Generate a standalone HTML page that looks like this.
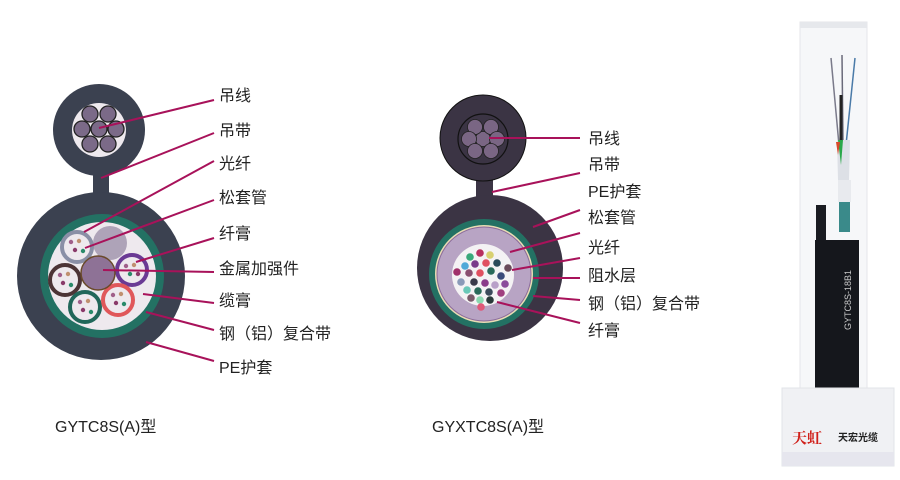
<!DOCTYPE html>
<html><head><meta charset="utf-8"><style>
body{margin:0;background:#fff;width:900px;height:475px;overflow:hidden}
svg text{font-family:"Liberation Sans","Noto Sans CJK SC",sans-serif;fill:#222}
</style></head><body>
<svg width="900" height="475" viewBox="0 0 900 475" xmlns="http://www.w3.org/2000/svg">
<!-- LEFT DIAGRAM -->
<rect x="93" y="160" width="16" height="34" fill="#3b4150"/>
<circle cx="99" cy="130" r="46" fill="#3b4150"/>
<circle cx="99" cy="130" r="27" fill="#eee9ee"/>
<g fill="#7b6a88" stroke="#222" stroke-width="1.3">
<circle cx="99" cy="129" r="8"/><circle cx="90" cy="114" r="8"/><circle cx="108" cy="114" r="8"/>
<circle cx="82" cy="129" r="8"/><circle cx="116" cy="129" r="8"/><circle cx="90" cy="144" r="8"/><circle cx="108" cy="144" r="8"/>
</g>
<circle cx="101" cy="276" r="84" fill="#3b4150"/>
<circle cx="102" cy="276" r="62" fill="#237163"/>
<circle cx="102" cy="276" r="54" fill="#eee9ee"/>
<circle cx="110" cy="243" r="17" fill="#aea3b8"/>
<circle cx="77" cy="247" r="15" fill="#eee9ee" stroke="#8a8fa6" stroke-width="4"/>
<circle cx="132" cy="270" r="15" fill="#eee9ee" stroke="#6a3a94" stroke-width="4"/>
<circle cx="65" cy="280" r="15" fill="#eee9ee" stroke="#4c3436" stroke-width="4"/>
<circle cx="85" cy="307" r="15" fill="#eee9ee" stroke="#21675a" stroke-width="4"/>
<circle cx="118" cy="300" r="15" fill="#eee9ee" stroke="#e0575a" stroke-width="4"/>
<circle cx="98" cy="273" r="17" fill="#8e7296" stroke="#6a4a2a" stroke-width="1.5"/>
<g fill="#a0608a">
<circle cx="71" cy="242" r="2.2"/><circle cx="79" cy="241" r="2.2" fill="#c09070"/><circle cx="75" cy="250" r="2.2" fill="#8a3a6a"/><circle cx="83" cy="251" r="2.2" fill="#2a8a6a"/>
<circle cx="126" cy="266" r="2.2"/><circle cx="134" cy="265" r="2.2" fill="#c09070"/><circle cx="130" cy="274" r="2.2" fill="#2a8a6a"/><circle cx="138" cy="274" r="2.2" fill="#8a3a6a"/>
<circle cx="60" cy="275" r="2.2"/><circle cx="68" cy="274" r="2.2" fill="#c09070"/><circle cx="63" cy="283" r="2.2" fill="#8a3a6a"/><circle cx="71" cy="285" r="2.2" fill="#2a8a6a"/>
<circle cx="80" cy="302" r="2.2"/><circle cx="88" cy="301" r="2.2" fill="#c09070"/><circle cx="83" cy="310" r="2.2" fill="#8a3a6a"/><circle cx="91" cy="312" r="2.2" fill="#2a8a6a"/>
<circle cx="113" cy="295" r="2.2"/><circle cx="121" cy="294" r="2.2" fill="#c09070"/><circle cx="116" cy="303" r="2.2" fill="#8a3a6a"/><circle cx="124" cy="304" r="2.2" fill="#2a8a6a"/>
</g>
<g stroke="#a8125a" stroke-width="2">
<line x1="99" y1="128" x2="214" y2="100"/>
<line x1="101" y1="178" x2="214" y2="133"/>
<line x1="84" y1="232" x2="214" y2="161"/>
<line x1="85" y1="248" x2="214" y2="200"/>
<line x1="136" y1="262" x2="214" y2="238"/>
<line x1="103" y1="270" x2="214" y2="272"/>
<line x1="143" y1="294" x2="214" y2="303"/>
<line x1="146" y1="312" x2="214" y2="330"/>
<line x1="146" y1="342" x2="214" y2="361"/>
</g>
<g font-size="16">
<text x="219" y="101">吊线</text><text x="219" y="136">吊带</text><text x="219" y="169">光纤</text>
<text x="219" y="203">松套管</text><text x="219" y="239">纤膏</text><text x="219" y="274">金属加强件</text>
<text x="219" y="306">缆膏</text><text x="219" y="339">钢（铝）复合带</text><text x="219" y="373">PE护套</text>
<text x="55" y="432">GYTC8S(A)型</text><text x="432" y="432">GYXTC8S(A)型</text>
</g>
<!-- MIDDLE DIAGRAM -->
<rect x="476" y="170" width="17" height="32" fill="#3b3444"/>
<circle cx="483" cy="138" r="43" fill="#3b3444" stroke="#111" stroke-width="1"/>
<circle cx="483" cy="139" r="25" fill="#3b3444" stroke="#111" stroke-width="1.2"/>
<g fill="#7a6684" stroke="#222" stroke-width="0.8">
<circle cx="483" cy="139" r="7.5"/><circle cx="475" cy="127" r="7.5"/><circle cx="491" cy="127" r="7.5"/>
<circle cx="469" cy="139" r="7.5"/><circle cx="497" cy="139" r="7.5"/><circle cx="475" cy="151" r="7.5"/><circle cx="491" cy="151" r="7.5"/>
</g>
<circle cx="490" cy="268" r="73" fill="#3b3444"/>
<circle cx="484" cy="274" r="55" fill="#237163"/>
<circle cx="484" cy="274" r="49" fill="#e8dcb4"/>
<circle cx="484" cy="274" r="47" fill="#b8a4c4" stroke="#8a6a9a" stroke-width="1"/>
<circle cx="483" cy="275" r="31" fill="#f4f2f4"/>
<g>
<circle cx="470" cy="257" r="3.8" fill="#3aa87a"/><circle cx="480" cy="253" r="3.8" fill="#b83060"/><circle cx="490" cy="255" r="3.8" fill="#d8d070"/>
<circle cx="465" cy="266" r="3.8" fill="#50a8d8"/><circle cx="475" cy="264" r="3.8" fill="#7a3a8a"/><circle cx="486" cy="263" r="3.8" fill="#e05060"/><circle cx="497" cy="263" r="3.8" fill="#2a4a5a"/><circle cx="508" cy="268" r="3.8" fill="#6a4a5a"/>
<circle cx="457" cy="272" r="3.8" fill="#a0306a"/><circle cx="469" cy="273" r="3.8" fill="#8a5070"/><circle cx="480" cy="273" r="3.8" fill="#e05060"/><circle cx="491" cy="271" r="3.8" fill="#2a6a5a"/><circle cx="501" cy="276" r="3.8" fill="#3a4a7a"/>
<circle cx="461" cy="282" r="3.8" fill="#8a9ab8"/><circle cx="474" cy="282" r="3.8" fill="#3a3a4a"/><circle cx="485" cy="283" r="3.8" fill="#8a3a8a"/><circle cx="495" cy="285" r="3.8" fill="#b8a0c8"/><circle cx="505" cy="284" r="3.8" fill="#8a4a9a"/>
<circle cx="467" cy="290" r="3.8" fill="#6ac8b8"/><circle cx="478" cy="291" r="3.8" fill="#2a6a5a"/><circle cx="489" cy="292" r="3.8" fill="#3a4a5a"/><circle cx="501" cy="293" r="3.8" fill="#a04080"/>
<circle cx="471" cy="298" r="3.8" fill="#7a5a6a"/><circle cx="480" cy="300" r="3.8" fill="#8ad8b0"/><circle cx="490" cy="300" r="3.8" fill="#2a3a3a"/><circle cx="481" cy="307" r="3.8" fill="#e05878"/>
</g>
<g stroke="#a8125a" stroke-width="2">
<line x1="489" y1="138" x2="580" y2="138"/>
<line x1="492" y1="192" x2="580" y2="173"/>
<line x1="533" y1="227" x2="580" y2="210"/>
<line x1="510" y1="252" x2="580" y2="233"/>
<line x1="512" y1="270" x2="580" y2="258"/>
<line x1="533" y1="278" x2="580" y2="278"/>
<line x1="533" y1="296" x2="580" y2="300"/>
<line x1="497" y1="302" x2="580" y2="323"/>
</g>
<g font-size="16">
<text x="588" y="144">吊线</text><text x="588" y="170">吊带</text><text x="588" y="197">PE护套</text>
<text x="588" y="223">松套管</text><text x="588" y="253">光纤</text><text x="588" y="281">阻水层</text>
<text x="588" y="309">钢（铝）复合带</text><text x="588" y="336">纤膏</text>
</g>
<!-- PHOTO -->
<rect x="800" y="22" width="67" height="372" fill="#f6f7f9" stroke="#e4e6ea"/>
<rect x="800" y="22" width="67" height="6" fill="#e6e8ec"/>
<line x1="831" y1="58" x2="839" y2="145" stroke="#7a7a8a" stroke-width="1.5"/>
<line x1="842" y1="55" x2="843" y2="145" stroke="#6a6a7a" stroke-width="1.5"/>
<line x1="855" y1="58" x2="846" y2="145" stroke="#4a7aa8" stroke-width="1.5"/>
<line x1="841" y1="95" x2="841" y2="140" stroke="#222" stroke-width="3"/>
<polygon points="837,140 850,140 849,180 838,180" fill="#dde0e6"/>
<polygon points="838,140 843,140 841,165" fill="#2aa84a"/>
<polygon points="836,142 840,142 838,155" fill="#d84a2a"/>
<rect x="838" y="180" width="13" height="22" fill="#e8eaee"/>
<rect x="839" y="202" width="11" height="30" fill="#3a8a8a"/>
<rect x="816" y="205" width="10" height="40" fill="#1a1c22"/>
<rect x="815" y="240" width="44" height="150" fill="#15171c"/>
<text x="0" y="0" font-size="9" style="fill:#ccc" transform="translate(851,330) rotate(-90)">GYTC8S-18B1</text>
<rect x="782" y="388" width="112" height="78" fill="#f0f1f4" stroke="#e2e4e8"/>
<rect x="782" y="452" width="112" height="14" fill="#e6e6ee"/>
<text x="792" y="443" font-size="15" style="fill:#d0201a;font-weight:bold;font-family:'Noto Serif CJK SC',serif">天虹</text>
<text x="838" y="441" font-size="10" style="fill:#222;font-weight:bold">天宏光缆</text>
</svg>
</body></html>
